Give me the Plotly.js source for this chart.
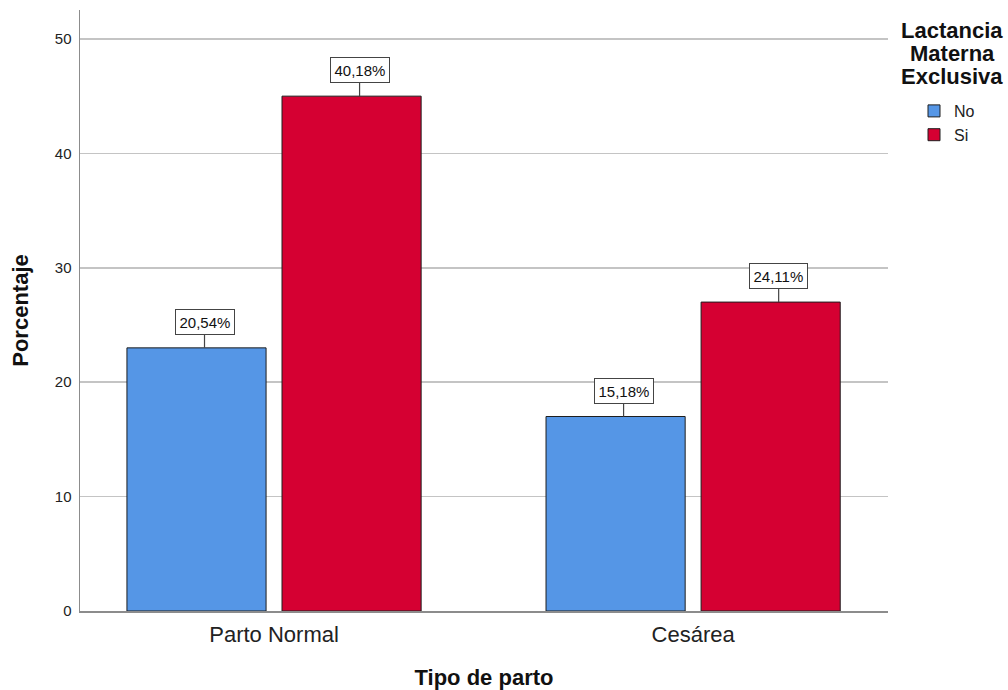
<!DOCTYPE html>
<html>
<head>
<meta charset="utf-8">
<script src="https://cdn.plot.ly/plotly-3.0.1.min.js"></script>
<style>
  html, body { margin: 0; padding: 0; background: #ffffff; }
  #chart { width: 1008px; height: 690px; }
</style>
</head>
<body>
<div id="chart"></div>
<script>
// Tipo de parto vs. Lactancia Materna Exclusiva (n = 112)
const categories = ['Parto Normal', 'Cesárea'];
const seriesNames = ['No', 'Si'];
const countsNo = [23, 17];
const countsSi = [45, 27];
const yTicks = [0, 10, 20, 30, 40, 50];

const total = countsNo.concat(countsSi).reduce((a, b) => a + b, 0);
const pctLabel = v => (v / total * 100).toFixed(2).replace('.', ',') + '%';

const FONT = 'Liberation Sans, Arial, sans-serif';
const colors = ['#5596e6', '#d50032'];
const barWidth = 0.332;
const offsets = [-0.351, 0.019];

const series = [countsNo, countsSi];
const traces = series.map((vals, s) => ({
  type: 'bar',
  name: seriesNames[s],
  x: categories,
  y: vals,
  width: barWidth,
  offset: offsets[s],
  marker: { color: colors[s], line: { color: '#1e1e1e', width: 1 } },
  hoverinfo: 'x+y+name'
}));

// Value boxes with a short leader line down to each bar top
const annotations = [];
series.forEach((vals, s) => {
  vals.forEach((v, i) => {
    annotations.push({
      x: i + offsets[s] + barWidth / 2,
      y: v,
      xref: 'x', yref: 'y',
      text: pctLabel(v),
      showarrow: true,
      arrowhead: 0,
      arrowwidth: 1.2,
      arrowcolor: '#444',
      ax: 0, ay: -26,
      xshift: 8,
      standoff: 0,
      bgcolor: '#ffffff',
      bordercolor: '#444',
      borderwidth: 1,
      borderpad: 3.5,
      font: { family: FONT, size: 15, color: '#111' }
    });
  });
});

// Legend heading, one line per annotation for tight spacing
['Lactancia', 'Materna', 'Exclusiva'].forEach((line, k) => {
  annotations.push({
    xref: 'paper', yref: 'paper',
    x: (952 - 80) / 808, y: (611 - (31 + 22.5 * k)) / 601,
    xanchor: 'center', yanchor: 'middle',
    text: '<b>' + line + '</b>',
    showarrow: false,
    font: { family: FONT, size: 22, color: '#111' }
  });
});

const layout = {
  width: 1008,
  height: 690,
  margin: { l: 80, r: 120, t: 10, b: 79 },
  paper_bgcolor: '#ffffff',
  plot_bgcolor: '#ffffff',
  barmode: 'overlay',
  showlegend: true,
  legend: {
    x: (914 - 80) / 808, xanchor: 'left',
    y: (611 - 94) / 601, yanchor: 'top',
    font: { family: FONT, size: 16, color: '#222' },
    bgcolor: 'rgba(0,0,0,0)',
    itemwidth: 30,
    tracegroupgap: 0
  },
  xaxis: {
    type: 'category',
    range: [-0.463, 1.465],
    showgrid: false,
    showline: true,
    linecolor: '#8c8c8c',
    linewidth: 1.5,
    ticks: '',
    tickfont: { family: FONT, size: 22, color: '#222' },
    ticklabelstandoff: 3,
    zeroline: false,
    title: { text: '<b>Tipo de parto</b>', font: { family: FONT, size: 22, color: '#111' }, standoff: 24 }
  },
  yaxis: {
    range: [0, 52.53],
    tickvals: yTicks,
    ticktext: yTicks.map(String),
    showgrid: true,
    gridcolor: '#c4c4c4',
    gridwidth: 1.5,
    showline: true,
    linecolor: '#8c8c8c',
    linewidth: 1.5,
    ticks: '',
    zeroline: false,
    tickfont: { family: FONT, size: 15, color: '#222' },
    ticklabelstandoff: 4,
    title: { text: '<b>Porcentaje</b>', font: { family: FONT, size: 22, color: '#111' }, standoff: 20 }
  },
  annotations: annotations
};

Plotly.newPlot('chart', traces, layout, { displayModeBar: false, staticPlot: true });
</script>
</body>
</html>
